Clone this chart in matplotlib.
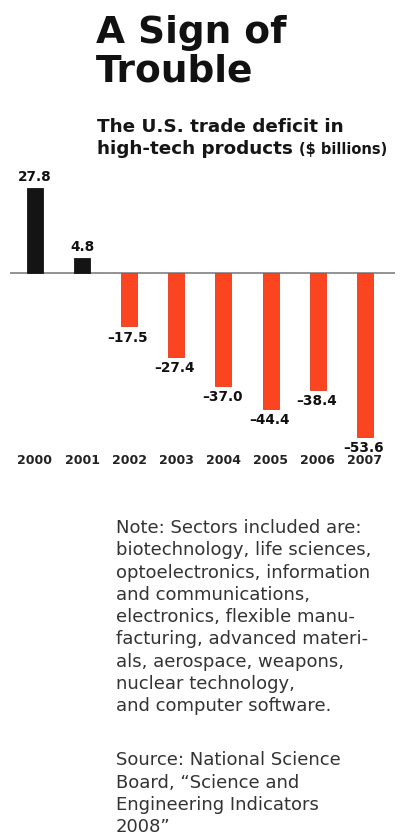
import matplotlib.pyplot as plt
import numpy as np

# data
years = ['2000', '2001', '2002', '2003', '2004', '2005', '2006', '2007']
deficit = [27.8, 4.8, -17.5, -27.4, -37.0, -44.4, -38.4, -53.6]

TITLE = ['A Sign of', 'Trouble']
SUB1 = 'The U.S. trade deficit in'
SUB2 = 'high-tech products'
SUB3 = '($ billions)'
NOTE = ['Note: Sectors included are:',
        'biotechnology, life sciences,',
        'optoelectronics, information',
        'and communications,',
        'electronics, flexible manu-',
        'facturing, advanced materi-',
        'als, aerospace, weapons,',
        'nuclear technology,',
        'and computer software.']
SOURCE = ['Source: National Science',
          'Board, \u201cScience and',
          'Engineering Indicators',
          '2008\u201d']

W, H = 405, 836
BLACK = '#141414'
RED = '#fb4420'
FONT = 'DejaVu Sans'


def fx(px):
    return px / W


def fy(px):
    return 1 - px / H


fig = plt.figure(figsize=(W / 100, H / 100), dpi=100)
fig.patch.set_facecolor('white')

# titles
for i, line in enumerate(TITLE):
    fig.text(fx(96), fy(43 + i * 39), line, fontsize=27, fontweight='heavy', family=FONT,
             va='baseline', ha='left', color='#111111')
fig.text(fx(97), fy(132), SUB1, fontsize=13.2, fontweight='bold', family=FONT,
         va='baseline', ha='left', color='#151515')
t = fig.text(fx(97), fy(154), SUB2 + ' ', fontsize=13.2, fontweight='bold', family=FONT,
             va='baseline', ha='left', color='#151515')
fig.canvas.draw()
bb = t.get_window_extent()
fig.text(bb.x1 / W, fy(154), SUB3, fontsize=10.5, fontweight='bold', family=FONT,
         va='baseline', ha='left', color='#151515')

# bars
ax = fig.add_axes([fx(10), fy(450), (395 - 10) / W, (450 - 180) / H])
x = np.arange(len(years))
colors = [BLACK if v > 0 else RED for v in deficit]
edges = [BLACK if v > 0 else '#e8381a' for v in deficit]
ax.bar(x, deficit, width=0.34, color=colors, edgecolor=edges, lw=0.6, zorder=2)
ax.axhline(0, color='#8a8a8a', lw=1.3, zorder=1)
ax.set_xlim(-0.53, 7.64)
ax.set_ylim(-58.0, 30.5)
for xi, v in zip(x, deficit):
    if v > 0:
        ax.annotate('%.1f' % v, (xi, v), xytext=(0, 3), textcoords='offset points',
                    ha='center', va='bottom', fontsize=9.8, fontweight='bold',
                    family=FONT, color='#111111')
    else:
        ax.annotate('\u2013%.1f' % abs(v), (xi, v), xytext=(-1, -3), textcoords='offset points',
                    ha='center', va='top', fontsize=9.8, fontweight='bold',
                    family=FONT, color='#111111')
ax.set_xticks(x)
ax.set_xticklabels(years, fontsize=9, fontweight='bold', family=FONT, color='#222222')
ax.tick_params(axis='x', length=0, pad=3)
ax.set_yticks([])
for s in ax.spines.values():
    s.set_visible(False)

# note and source
for i, line in enumerate(NOTE):
    fig.text(fx(116), fy(533 + i * 22.3), line, fontsize=13, family=FONT,
             va='baseline', ha='left', color='#333333')
for i, line in enumerate(SOURCE):
    fig.text(fx(116), fy(765 + i * 22.5), line, fontsize=13, family=FONT,
             va='baseline', ha='left', color='#333333')

fig.savefig('out.png', dpi=100, facecolor='white')
